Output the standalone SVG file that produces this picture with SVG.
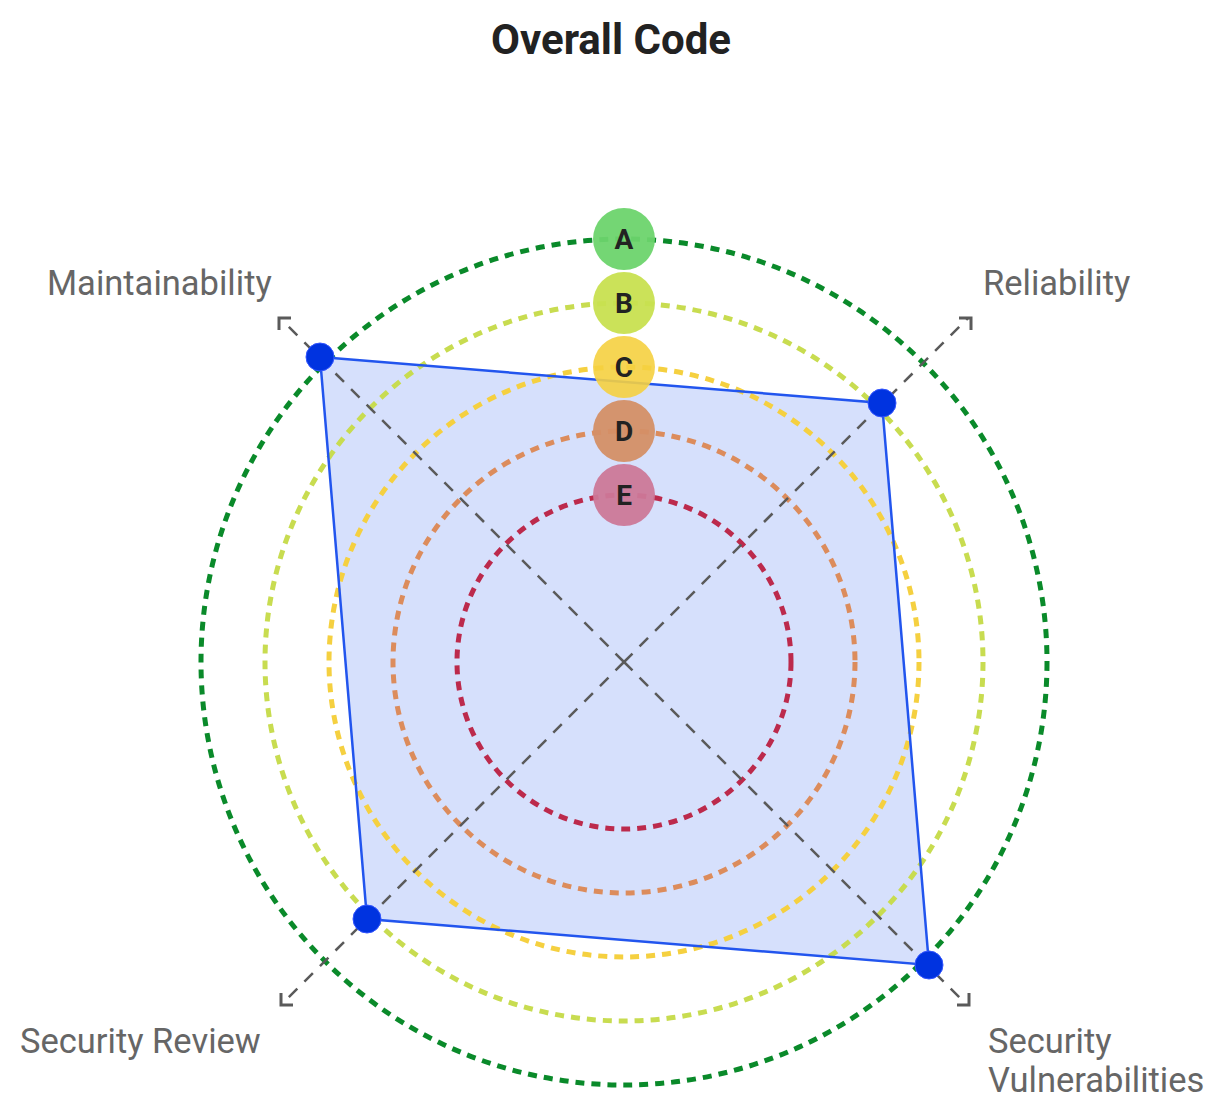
<svg xmlns="http://www.w3.org/2000/svg" width="1211" height="1100" viewBox="0 0 1211 1100">
<style>
.ring{fill:none;stroke-width:5;stroke-dasharray:9 7}
.axis{fill:none;stroke:#5a5a5a;stroke-width:2.5;stroke-dasharray:12 10}
.head{fill:none;stroke:#5a5a5a;stroke-width:3}
.lbl{font-family:Roboto,"Liberation Sans",sans-serif;font-size:34.5px;fill:#666}
.grade{font-family:Roboto,"Liberation Sans",sans-serif;font-size:28px;font-weight:bold;fill:#222;text-anchor:middle}
.dot{fill:#0033e0;stroke:#3355ff;stroke-width:1}
</style>
<rect width="1211" height="1100" fill="#fff"/>
<text x="611" y="54" text-anchor="middle" font-family="Roboto,'Liberation Sans',sans-serif" font-size="42" font-weight="bold" fill="#222">Overall Code</text>
<polygon id="data-area" points="320,357 882,403 929,965 367,919" fill="#3366ee" fill-opacity="0.2"/>
<g id="rings">
<circle class="ring" cx="624" cy="662" r="423" stroke="#0a8a2a"/>
<circle class="ring" cx="624" cy="662" r="359" stroke="#c8dc50"/>
<circle class="ring" cx="624" cy="662" r="295" stroke="#f5d040"/>
<circle class="ring" cx="624" cy="662" r="231" stroke="#dc8c5c"/>
<circle class="ring" cx="624" cy="662" r="167" stroke="#bc2a4c"/>
</g>
<g id="axes">
<line class="axis" x1="624" y1="662" x2="282" y2="320"/>
<line class="axis" x1="624" y1="662" x2="968" y2="318"/>
<line class="axis" x1="624" y1="662" x2="284" y2="1002"/>
<line class="axis" x1="624" y1="662" x2="966" y2="1004"/>
<polyline class="head" points="279,330 279,318 291,318"/>
<polyline class="head" points="959,318 971,318 971,330"/>
<polyline class="head" points="281,993 281,1005 293,1005"/>
<polyline class="head" points="957,1005 969,1005 969,993"/>
</g>
<polygon id="data-outline" points="320,357 882,403 929,965 367,919" fill="none" stroke="#2255ee" stroke-width="2.5"/>
<g id="grades">
<g id="grade-A"><circle cx="624" cy="239" r="31" fill="#6dd46d" fill-opacity="0.95"/><text class="grade" x="624" y="249">A</text></g>
<g id="grade-B"><circle cx="624" cy="303" r="31" fill="#c8e050" fill-opacity="0.95"/><text class="grade" x="624" y="313">B</text></g>
<g id="grade-C"><circle cx="624" cy="367" r="31" fill="#f5d040" fill-opacity="0.9"/><text class="grade" x="624" y="377">C</text></g>
<g id="grade-D"><circle cx="624" cy="431" r="31" fill="#d48f66" fill-opacity="0.95"/><text class="grade" x="624" y="441">D</text></g>
<g id="grade-E"><circle cx="624" cy="495" r="31" fill="#cc7898" fill-opacity="0.95"/><text class="grade" x="624" y="505">E</text></g>
</g>
<g id="points">
<circle class="dot" cx="320" cy="357" r="14"/>
<circle class="dot" cx="882" cy="403" r="14"/>
<circle class="dot" cx="929" cy="965" r="14"/>
<circle class="dot" cx="367" cy="919" r="14"/>
</g>
<g id="labels">
<text class="lbl" x="47" y="295">Maintainability</text>
<text class="lbl" x="983" y="295">Reliability</text>
<text class="lbl" x="20" y="1053">Security Review</text>
<text class="lbl" x="988" y="1053">Security</text>
<text class="lbl" x="988" y="1092">Vulnerabilities</text>
</g>
</svg>
